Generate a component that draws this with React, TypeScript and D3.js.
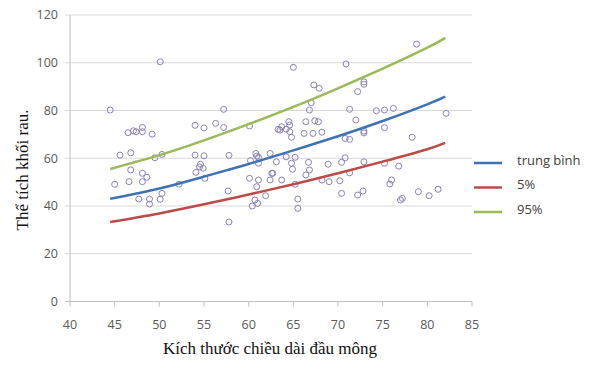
import React from "react";
import * as d3 from "d3";

const xTicks = [40, 45, 50, 55, 60, 65, 70, 75, 80, 85];
const yTicks = [0, 20, 40, 60, 80, 100, 120];

const curveX = [44.5, 50, 55, 60, 65, 70, 75, 80, 82];
const meanY = [43, 47.3, 52.3, 57.6, 63.3, 69.2, 75.6, 82.6, 85.8];
const p5Y = [33.3, 36.9, 40.7, 44.8, 49.1, 53.7, 58.6, 63.8, 66.4];
const p95Y = [55.5, 61.3, 67.5, 74.3, 81.5, 89.3, 97.5, 106.3, 110.4];

const seriesNames = ["trung bình", "5%", "95%"];
const seriesColors = ["#3f72b4", "#be4a47", "#9aba59"];

const pointsX = [
  44.5, 50.1, 46.5, 47.1, 47.4, 48.1, 48.1, 49.2, 45.6, 46.8, 49.5, 50.3, 46.8, 48.1, 48.6, 48.1, 46.6, 45, 47.7, 48.9,
  48.9, 50.1, 50.3, 52.2, 54, 55, 56.3, 57.2, 57.2, 54, 55, 54.6, 54.5, 54.9, 54.1, 55.1, 57.8, 57.7, 57.8, 60.1,
  63.3, 60.8, 60.9, 61.1, 60.2, 62.4, 61.1, 60.1, 61.1, 62.4, 62.6, 62.7, 60.9, 61.9, 60.7, 61, 60.4,
  78.8, 65, 70.9, 67.3, 67.9, 72.9, 72.9, 72.2, 67, 66.8, 71.3, 74.3, 75.2, 76.2, 82.1, 64.5, 64.6, 63.7, 64.2, 64.6,
  63.5, 64.8, 66.4, 67.4, 67.8, 66.2, 67.2, 68.2, 72, 72.9, 72.9, 75.2, 70.8, 71.3, 78.3, 63.1, 64.2, 65.2, 64.8, 64.9,
  66.7, 66.8, 66.4, 63.7, 65.2, 68.9, 70.4, 70.8, 71.3, 68.2, 69, 70.2, 72.9, 75.2, 76.8, 76, 75.8, 70.4, 72.2, 72.8,
  65.5, 65.5, 77, 77.2, 79, 80.2, 81.2,
];
const pointsY = [
  80.2, 100.4, 70.7, 71.5, 71.1, 72.9, 71.1, 70.1, 61.3, 62.3, 60.2, 61.6, 55.1, 53.7, 52, 50.2, 50.2, 49.1, 42.9, 42.9,
  40.8, 42.8, 45.3, 49.1, 73.8, 72.7, 74.6, 72.9, 80.5, 61.3, 61, 57.5, 56.4, 55.8, 54.1, 51.6, 61.2, 46.3, 33.3, 73.5,
  72.1, 62, 60.9, 60.4, 59, 62, 57.9, 51.6, 50.9, 50.9, 53.7, 53.7, 48.1, 44.3, 42.5, 41.1, 40,
  107.8, 98.1, 99.5, 90.7, 89.3, 92, 91, 87.9, 83.3, 80.2, 80.5, 79.9, 80.2, 80.9, 78.8, 75.3, 73.9, 73.2, 72.2, 71.1,
  71.8, 68.8, 75.3, 75.7, 75.3, 70.4, 70.4, 70.9, 76, 71.4, 70.6, 72.8, 68.3, 67.9, 68.8, 58.5, 60.6, 60.4, 57.9, 55.4,
  58.3, 55.1, 53, 50.9, 49.1, 57.5, 58.3, 60.2, 53.9, 50.9, 50.2, 50.6, 58.5, 57.9, 56.7, 50.9, 49.2, 45.3, 44.6, 46.3,
  42.9, 39, 42.5, 43.2, 46, 44.3, 47,
];

export default function App() {
  const W = 594;
  const H = 365;
  const x = d3.scaleLinear().domain([40, 85]).range([70, 472]);
  const y = d3.scaleLinear().domain([0, 120]).range([301.5, 15]);
  const line = d3
    .line<number>()
    .x((_, i) => x(curveX[i]))
    .y((d) => y(d))
    .curve(d3.curveNatural);
  const series = [meanY, p5Y, p95Y];
  const tickFont = "'Open Sans', 'Liberation Sans', sans-serif";
  const serif = "'Liberation Serif', 'DejaVu Serif', serif";

  return (
    <svg
      width={W}
      height={H}
      style={{ position: "fixed", left: 0, top: 0, background: "#fff" }}
    >
      <rect x={0} y={0} width={W} height={H} fill="#fff" />
      {yTicks.map((t) => (
        <g key={"gy" + t}>
          <line x1={65} x2={472} y1={y(t)} y2={y(t)} stroke={t === 0 ? "#bfbfbf" : "#d9d9d9"} strokeWidth={1} />
          <text
            x={58}
            y={y(t)}
            dy="0.35em"
            textAnchor="end"
            fontFamily={tickFont}
            fontSize={12.5}
            fill="#595959"
          >
            {t}
          </text>
        </g>
      ))}
      <line x1={70} x2={70} y1={y(120)} y2={y(0)} stroke="#bfbfbf" strokeWidth={1} />
      {xTicks.map((t) => (
        <g key={"gx" + t}>
          <line x1={x(t)} x2={x(t)} y1={y(0)} y2={y(0) + 5} stroke="#bfbfbf" strokeWidth={1} />
          <text
            x={x(t)}
            y={325}
            dy="0.35em"
            textAnchor="middle"
            fontFamily={tickFont}
            fontSize={12.5}
            fill="#595959"
          >
            {t}
          </text>
        </g>
      ))}
      {pointsX.map((px, i) => (
        <circle
          key={"p" + i}
          cx={x(px)}
          cy={y(pointsY[i])}
          r={3}
          fill="none"
          stroke="#8c80b4"
          strokeWidth={1}
        />
      ))}
      {series.map((s, i) => (
        <path key={"s" + i} d={line(s) || ""} fill="none" stroke={seriesColors[i]} strokeWidth={2.5} />
      ))}
      {seriesNames.map((n, i) => (
        <g key={"l" + i}>
          <line
            x1={474}
            x2={502}
            y1={163 + i * 24.5}
            y2={163 + i * 24.5}
            stroke={seriesColors[i]}
            strokeWidth={2.5}
          />
          <text
            x={517}
            y={160 + i * 24.5}
            dy="0.35em"
            fontFamily={tickFont}
            fontSize={13}
            fill="#404040"
          >
            {n}
          </text>
        </g>
      ))}
      <text
        transform={`translate(22,170) rotate(-90)`}
        textAnchor="middle"
        dy="0.35em"
        fontFamily={serif}
        fontSize={17}
        fill="#111"
      >
        Thể tích khối rau.
      </text>
      <text x={270} y={354} textAnchor="middle" fontFamily={serif} fontSize={17} fill="#111">
        Kích thước chiều dài đầu mông
      </text>
    </svg>
  );
}
